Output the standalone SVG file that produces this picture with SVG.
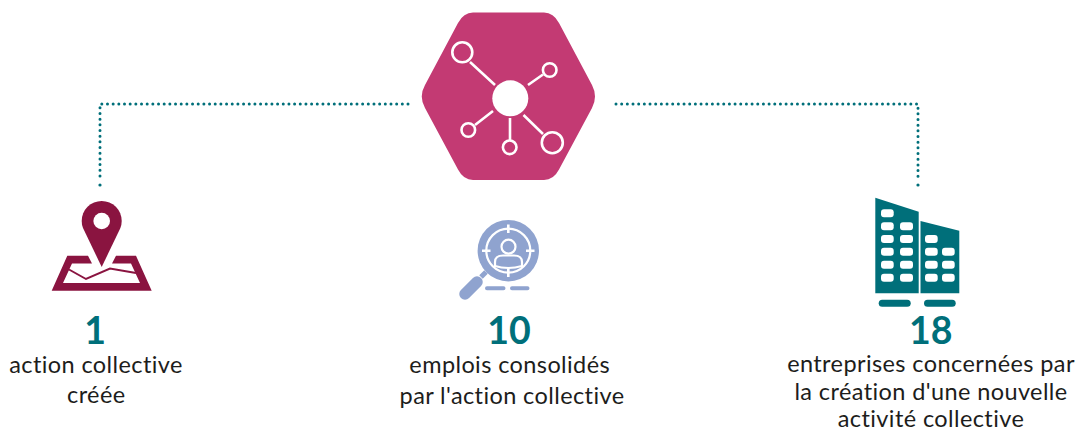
<svg xmlns="http://www.w3.org/2000/svg" width="1078" height="432" viewBox="0 0 1078 432">
<style>
text{font-family:"Lato","Noto Sans",sans-serif;text-anchor:middle}
.num{font-size:37.5px;font-weight:700;fill:#006f7a}
.lab{font-size:23.500px;fill:#1d1d1b;letter-spacing:.4px}
.dot{fill:none;stroke:#006f7a;stroke-width:3;stroke-linecap:round;stroke-dasharray:0 5.67}
.w{fill:#fff}
.ln{fill:none;stroke:#fff;stroke-width:2.600}
</style>
<rect width="1078" height="432" fill="#fff"/>
<g id="connectors">
<path class="dot" d="M408 104H100V178"/>
<circle cx="100" cy="185" r="1.600" fill="#006f7a"/>
<path class="dot" d="M616 104H918V178"/>
<circle cx="918" cy="185" r="1.600" fill="#006f7a"/>
</g>
<g id="hub">
<path d="M473 12.500H544Q553.500 12.500 559 23L592 85Q598 96.500 592 108L559 169.500Q553.500 180 544 180H473Q463.500 180 458 169.500L425 108Q418.500 96.500 425 85L458 23Q463.500 12.500 473 12.500Z" fill="#c33a73"/>
<circle class="w" cx="510.300" cy="98.300" r="18"/>
<g class="ln">
<circle cx="462.300" cy="52.300" r="10"/><circle cx="552.300" cy="142.700" r="10.500"/>
<circle cx="549.700" cy="70" r="6.800"/><circle cx="468.300" cy="130" r="6.800"/><circle cx="509.700" cy="147.300" r="6.800"/>
<path d="M470 62L495 85M528 85L543 74.500M493 111L475 125M510 118V140M523.500 115L543 134"/>
</g>
</g>
<g id="action">
<path d="M67.300 255.700H88L92 263.500H72L63 283H140L131 263.500H112L116 255.700H136L151.700 290.700H51.700Z" fill="#8a1440"/>
<path d="M69 269.500L86 279L110 268.500L136 273" fill="none" stroke="#8a1440" stroke-width="2"/>
<path d="M101.700 267L83 228Q81.700 224.500 81.700 221A20 20 0 0 1 121.700 221Q121.700 224.500 120.400 228Z" fill="#8a1440"/>
<circle class="w" cx="101.700" cy="221" r="8.300"/>
<text class="num" x="95" y="344.300">1</text>
<text class="lab" x="96" y="373">action collective</text>
<text class="lab" x="96.300" y="403">créée</text>
</g>
<g id="emplois">
<circle cx="508.300" cy="250.700" r="30.700" fill="#8fa3cf"/>
<circle cx="508.300" cy="250.700" r="22" fill="none" stroke="#fff" stroke-width="2.200"/>
<path d="M508.300 224.500V233M508.300 268.500V277M482 250.700H490.500M526 250.700H534.500" stroke="#fff" stroke-width="2.600" fill="none"/>
<circle cx="508.500" cy="246.700" r="7" fill="none" stroke="#fff" stroke-width="2.200"/>
<path d="M495 266V262Q495 255.500 503 255.500H514Q522 255.500 522 262V266Q515 268 508.500 268Q501 268 495 266Z" fill="none" stroke="#fff" stroke-width="2.200"/>
<path d="M465 294L477 282" stroke="#8fa3cf" stroke-width="11.500" stroke-linecap="round"/>
<path d="M481 277L486 272" stroke="#8fa3cf" stroke-width="5"/>
<path d="M487 288.300H503.500M512 288.300H527.500" stroke="#8fa3cf" stroke-width="4" stroke-linecap="round"/>
<text class="num" x="509" y="344.300">10</text>
<text class="lab" x="509.700" y="373">emplois consolidés</text>
<text class="lab" x="512" y="404">par l'action collective</text>
</g>
<g id="entreprises">
<path d="M875.300 197.700L918.700 211.700V293.300H875.300Z" fill="#006f7a"/>
<path d="M920.500 221L959.300 230.700V293.300H920.500Z" fill="#006f7a"/>
<g class="w">
<rect x="881" y="209.300" width="12.700" height="8" rx="3"/>
<rect x="881" y="222.300" width="12.700" height="8" rx="3"/><rect x="900" y="222.300" width="13" height="8" rx="3"/>
<rect x="881" y="235" width="12.700" height="8" rx="3"/><rect x="900" y="235" width="13" height="8" rx="3"/>
<rect x="881" y="247.700" width="12.700" height="8" rx="3"/><rect x="900" y="247.700" width="13" height="8" rx="3"/>
<rect x="881" y="260.700" width="12.700" height="8" rx="3"/><rect x="900" y="260.700" width="13" height="8" rx="3"/>
<rect x="881" y="273.700" width="12.700" height="8" rx="3"/><rect x="900" y="273.700" width="13" height="8" rx="3"/>
<rect x="925" y="235" width="12.700" height="8" rx="3"/>
<rect x="925" y="247.700" width="12.700" height="8" rx="3"/><rect x="942" y="247.700" width="12.700" height="8" rx="3"/>
<rect x="925" y="260.700" width="12.700" height="8" rx="3"/><rect x="942" y="260.700" width="12.700" height="8" rx="3"/>
<rect x="925" y="273.700" width="12.700" height="8" rx="3"/><rect x="942" y="273.700" width="12.700" height="8" rx="3"/>
</g>
<rect x="878.700" y="299.800" width="32" height="7" rx="3.500" fill="#006f7a"/>
<rect x="924" y="299.800" width="31.700" height="7" rx="3.500" fill="#006f7a"/>
<text class="num" x="930.700" y="344.300">18</text>
<text class="lab" x="931" y="372">entreprises concernées par</text>
<text class="lab" x="931" y="399.500">la création d'une nouvelle</text>
<text class="lab" x="931" y="427">activité collective</text>
</g>
</svg>
